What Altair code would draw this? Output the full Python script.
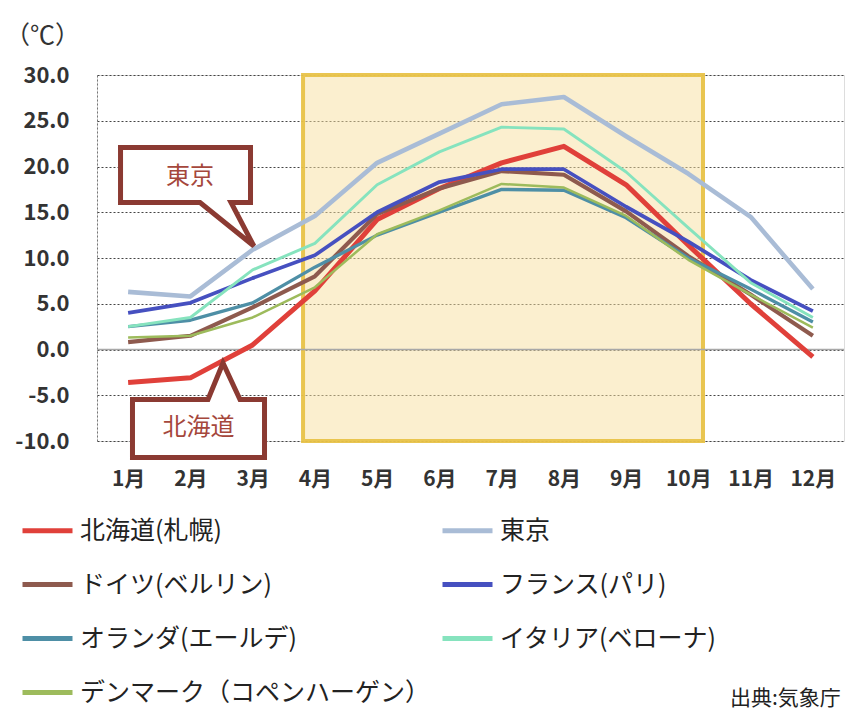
import altair as alt
import pandas as pd

FONT = "Noto Sans CJK JP"

# Monthly mean temperatures (°C)
months = list(range(1, 13))
series_names = [
    "北海道(札幌)",
    "東京",
    "ドイツ(ベルリン)",
    "フランス(パリ)",
    "オランダ(エールデ)",
    "イタリア(ベローナ)",
    "デンマーク（コペンハーゲン）",
]
sapporo = [-3.6, -3.1, 0.5, 6.4, 14.2, 17.6, 20.4, 22.2, 18.0, 11.4, 5.0, -0.8]
tokyo = [6.3, 5.8, 10.9, 14.6, 20.4, 23.6, 26.8, 27.6, 23.3, 19.2, 14.5, 6.6]
berlin = [0.8, 1.5, 4.6, 8.0, 14.8, 17.6, 19.5, 19.1, 15.1, 10.2, 6.0, 1.5]
paris = [4.0, 5.1, 7.8, 10.3, 15.0, 18.3, 19.7, 19.7, 15.6, 11.8, 7.6, 4.2]
eelde = [2.5, 3.2, 5.1, 9.0, 12.5, 15.0, 17.5, 17.4, 14.4, 10.0, 6.6, 3.0]
verona = [2.5, 3.5, 8.7, 11.6, 18.0, 21.6, 24.3, 24.1, 19.4, 13.3, 7.3, 3.5]
copenhagen = [1.3, 1.5, 3.5, 6.8, 12.6, 15.2, 18.1, 17.7, 14.6, 9.8, 6.0, 2.4]
all_series = [sapporo, tokyo, berlin, paris, eelde, verona, copenhagen]

series_colors = ["#E0403A", "#A9BCD6", "#8E5A4E", "#4650C0", "#4E8FA6", "#86E3BE", "#9DBB5C"]
series_widths = [5, 2.5, 3, 3, 3, 3, 4]

# Legend runs column by column: left column first, then the right one
legend_order = [series_names[i] for i in (0, 2, 4, 6, 1, 3, 5)]
legend_colors = [series_colors[i] for i in (0, 2, 4, 6, 1, 3, 5)]

y_ticks = [-10, -5, 0, 5, 10, 15, 20, 25, 30]

# Highlighted summer period (April–October)
period_x = [3.81, 10.235]
period_y = [30, -10]

# Speech-bubble callouts (outline vertices in month / °C units)
tokyo_bubble_x = [1.9, 2.966, 2.966, 2.653, 3.02, 2.155, 0.878, 0.878, 1.9]
tokyo_bubble_y = [22.08, 22.08, 16.07, 16.07, 11.31, 16.07, 16.07, 22.08, 22.08]
hokkaido_bubble_x = [2.0, 2.283, 2.524, 2.797, 3.191, 3.191, 1.070, 1.070, 2.0]
hokkaido_bubble_y = [-5.46, -5.46, -1.48, -5.46, -5.46, -11.80, -11.80, -5.46, -5.46]
callout_labels = ["東京", "北海道"]
callout_x = [1.994, 2.13]
callout_y = [18.85, -8.6]

source_note = "出典:気象庁"

rows = []
for name, vals in zip(series_names, all_series):
    for m, v in zip(months, vals):
        rows.append({"series": name, "month": m, "temp": v})
df = pd.DataFrame(rows)

x_scale = alt.Scale(domain=[0.5, 12.5], nice=False, zero=False)
y_scale = alt.Scale(domain=[-10, 30], nice=False, zero=False)

x_axis = alt.Axis(
    values=months,
    labelExpr="datum.value + '月'",
    labelFontSize=21,
    labelFontWeight="bold",
    labelColor="#333333",
    labelPadding=27,
    labelFont=FONT,
    ticks=False,
    domain=False,
    grid=False,
    title=None,
)
y_axis = alt.Axis(
    values=y_ticks,
    labelExpr="replace(format(datum.value, '.1f'), '−', '-')",
    labelFontSize=22,
    labelFontWeight="bold",
    labelColor="#333333",
    labelPadding=28,
    labelFont=FONT,
    ticks=False,
    grid=True,
    gridDash=[2, 2],
    gridColor="#444444",
    gridWidth=1,
    domain=True,
    domainDash=[2, 2],
    domainColor="#777777",
    title="（℃）",
    titleAngle=0,
    titleX=-55,
    titleY=-40,
    titleAlign="center",
    titleBaseline="middle",
    titleFontSize=25,
    titleFontWeight="normal",
    titleColor="#333333",
    titleFont=FONT,
)

period = alt.Chart(pd.DataFrame({"x": [period_x[0]], "x2": [period_x[1]],
                                 "y": [period_y[0]], "y2": [period_y[1]]})).mark_rect(
    fill="#F8E0A0", fillOpacity=0.5, stroke="#E8C248", strokeWidth=4, strokeOpacity=0.95
).encode(
    x=alt.X("x:Q", scale=x_scale, axis=x_axis),
    x2="x2:Q",
    y=alt.Y("y:Q", scale=y_scale, axis=y_axis),
    y2="y2:Q",
)

zero_rule = alt.Chart(pd.DataFrame({"y": [0]})).mark_rule(
    color="#A8A8A8", strokeWidth=1.5
).encode(y=alt.Y("y:Q", scale=y_scale))

lines = alt.Chart(df).mark_line(strokeJoin="round").encode(
    x=alt.X("month:Q", scale=x_scale),
    y=alt.Y("temp:Q", scale=y_scale),
    color=alt.Color(
        "series:N",
        scale=alt.Scale(domain=legend_order, range=legend_colors),
        sort=legend_order,
        legend=alt.Legend(
            title=None,
            orient="none",
            legendX=-77,
            legendY=428,
            columns=2,
            columnPadding=1,
            rowPadding=13,
            symbolType="stroke",
            symbolSize=2500,
            symbolStrokeWidth=5,
            labelFont=FONT,
            labelFontSize=25,
            labelColor="#222222",
            labelOffset=5,
            labelLimit=400,
        ),
    ),
    strokeWidth=alt.StrokeWidth(
        "series:N",
        scale=alt.Scale(domain=series_names, range=series_widths),
        legend=None,
    ),
)


def bubble(xs, ys):
    data = pd.DataFrame({"x": xs, "y": ys, "i": list(range(len(xs)))})
    return alt.Chart(data).mark_line(
        fill="white", stroke="#8B3A32", strokeWidth=5, strokeJoin="miter"
    ).encode(
        x=alt.X("x:Q", scale=x_scale),
        y=alt.Y("y:Q", scale=y_scale),
        order="i:O",
    )


callout_text = alt.Chart(pd.DataFrame({"label": callout_labels, "x": callout_x, "y": callout_y})).mark_text(
    font=FONT, fontSize=24, color="#A5473C", baseline="middle", align="center"
).encode(
    x=alt.X("x:Q", scale=x_scale),
    y=alt.Y("y:Q", scale=y_scale),
    text="label:N",
)

source = alt.Chart(pd.DataFrame({"t": [source_note]})).mark_text(
    font=FONT, fontSize=21, color="#222222", align="left", baseline="alphabetic"
).encode(x=alt.value(633), y=alt.value(630), text="t:N")

chart = alt.layer(
    period, zero_rule, lines,
    bubble(tokyo_bubble_x, tokyo_bubble_y),
    bubble(hokkaido_bubble_x, hokkaido_bubble_y),
    callout_text, source,
).properties(
    width=747,
    height=366,
    autosize=alt.AutoSizeParams(type="none"),
    padding={"left": 97, "top": 75, "right": 2, "bottom": 270},
).configure_view(stroke=None).configure(background="white")

chart.save("out.html", embed_options={"renderer": "svg", "actions": False})
